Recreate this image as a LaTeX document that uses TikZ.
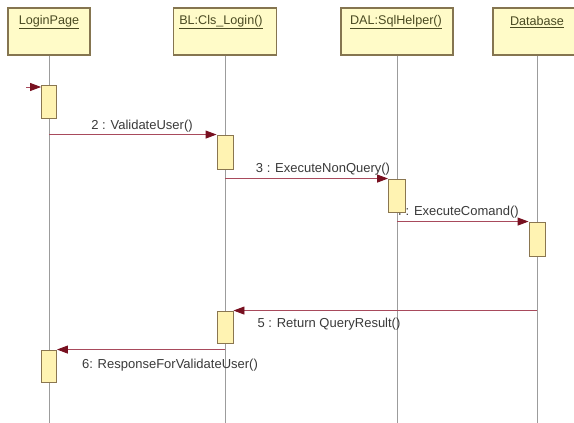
\documentclass[tikz,border=0pt]{standalone}
\usepackage{fontspec}
\setmainfont{Liberation Sans}
\usetikzlibrary{arrows.meta}
\definecolor{hdrfill}{HTML}{FFFBC8}
\definecolor{hdrdraw}{HTML}{857550}
\definecolor{actfill}{HTML}{FFF3B2}
\definecolor{actdraw}{HTML}{8A7650}
\definecolor{msgline}{HTML}{A84A5C}
\definecolor{msghead}{HTML}{781020}
\definecolor{lifecol}{HTML}{9C9C9C}
\definecolor{hdrtext}{HTML}{4A4A22}
\definecolor{msgtext}{HTML}{3A3A3A}
\tikzset{
  objbox/.style={draw=hdrdraw, fill=hdrfill, line width=1.1pt, rectangle, minimum height=47pt, inner sep=0pt},
  objlabel/.style={text=hdrtext, font=\fontsize{12.6}{14}\selectfont, inner sep=0pt},
  lifeline/.style={draw=lifecol, line width=0.9pt},
  activation/.style={draw=actdraw, fill=actfill, line width=0.9pt, rectangle, inner sep=0pt},
  msg/.style={draw=msgline, line width=0.9pt, -{Triangle[length=11pt,width=8pt,fill=msghead,color=msghead]}},
  msglabel/.style={text=msgtext, font=\fontsize{13}{15}\selectfont, inner sep=0pt}
}
\begin{document}
\begin{tikzpicture}[x=1pt,y=-1pt]
\useasboundingbox[fill=white] (0,0) rectangle (574,423);

% object headers
\node[objbox, minimum width=82pt]  (lp)  at (49,31.5)  {};
\node[objbox, minimum width=103pt] (bl)  at (225,31.5) {};
\node[objbox, minimum width=112pt] (dal) at (397,31.5) {};
\node[objbox, minimum width=88pt]  (db)  at (537,31.5) {};
\node[objlabel] (lpt)  at (49,22)  {\underline{LoginPage}};
\node[objlabel] (blt)  at (221,22) {\underline{BL:Cls\_Login()}};
\node[objlabel] (dalt) at (396,22) {\underline{DAL:SqlHelper()}};
\node[objlabel] (dbt)  at (537,22) {\underline{Database}};

% lifeline ends
\coordinate (lpend)  at (49,423);
\coordinate (blend)  at (225,423);
\coordinate (dalend) at (397,423);
\coordinate (dbend)  at (537,423);
\draw[lifeline] (lp.south)  -- (lpend);
\draw[lifeline] (bl.south)  -- (blend);
\draw[lifeline] (dal.south) -- (dalend);
\draw[lifeline] (db.south)  -- (dbend);

% message labels
\node[msglabel] (l2) at (142,126) {2 : ValidateUser()};
\node[msglabel] (l3) at (323,169) {3 : ExecuteNonQuery()};
\node[msglabel, anchor=east] (l4) at (519,212) {4 : ExecuteComand()};
\node[msglabel] (l5) at (329,324) {5 : Return QueryResult()};
\node[msglabel] (l6) at (170,365) {6: ResponseForValidateUser()};

% activation bars
\node[activation, minimum width=15pt, minimum height=33pt] (a1) at (49,101.5) {};
\node[activation, minimum width=16pt, minimum height=34pt] (a2) at (225,152) {};
\node[activation, minimum width=17pt, minimum height=33pt] (a3) at (397,195.5) {};
\node[activation, minimum width=16pt, minimum height=34pt] (a4) at (537,239) {};
\node[activation, minimum width=16pt, minimum height=32pt] (a5) at (225,327) {};
\node[activation, minimum width=15pt, minimum height=32pt] (a6) at (49,366) {};

% messages
\coordinate (found) at (26,87);
\draw[msg] (found) -- (found -| a1.west);
\draw[msg] (a1.south |- a2.north) -- (a2.north west);
\draw[msg] (a2.south |- a3.north) -- (a3.north west);
\draw[msg] (a3.south |- a4.north) -- (a4.north west);
\draw[msg] (a4.south |- a5.north) -- (a5.north east);
\draw[msg] (a5.south |- a6.north) -- (a6.north east);
\end{tikzpicture}
\end{document}
